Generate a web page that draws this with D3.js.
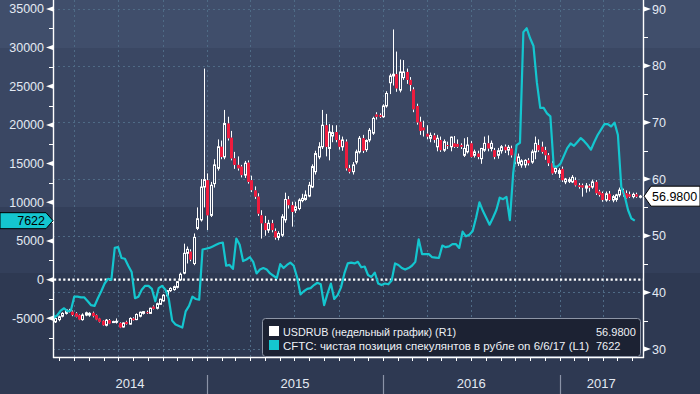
<!DOCTYPE html>
<html>
<head>
<meta charset="utf-8">
<script src="https://cdn.jsdelivr.net/npm/d3@7"></script>
<style>
  html, body { margin: 0; padding: 0; background: #2e3952; }
  svg { display: block; font-family: "Liberation Sans", Arial, sans-serif; }
</style>
</head>
<body>
<svg id="chart" width="700" height="394"></svg>
<script>
/* USDRUB weekly candles (R1) + CFTC net speculative RUB position (L1) */

// weekly USDRUB bars, Fridays from this date: [open, high, low, close]
const USDRUB_FIRST_WEEK = "2014-02-21";
const USDRUB_OHLC = [
  [34.8,35.6,34.6,35.4],[35.2,35.9,34.9,35.7],[35.8,36.5,35.6,36.3],[36.3,37.0,36.1,36.9],
  [36.8,37.1,36.4,36.5],[36.6,36.8,35.8,36.0],[36.3,36.5,35.6,35.7],[36.0,36.1,35.1,35.2],
  [35.2,36.3,35.0,36.0],[36.0,36.6,35.8,36.4],[36.0,36.5,35.7,36.3],[36.4,36.6,35.6,35.8],
  [36.0,36.1,35.1,35.2],[35.4,35.5,34.7,34.8],[35.0,35.1,34.1,34.2],[34.2,35.3,34.0,35.1],
  [35.1,35.3,34.4,34.5],[34.8,35.0,34.6,34.85],[34.8,35.4,34.5,34.9],[34.6,34.7,33.7,33.8],
  [33.9,34.7,33.8,34.6],[34.8,35.0,34.3,34.4],[34.4,35.6,34.3,35.4],[35.4,35.6,35.0,35.1],
  [35.2,36.3,35.1,36.1],[35.8,36.6,35.6,36.5],[36.3,36.7,36.1,36.6],[36.5,36.8,36.2,36.4],
  [36.3,37.3,36.2,37.2],[37.5,37.7,37.0,37.1],[37.2,38.2,37.0,38.0],[37.9,38.9,37.8,38.8],
  [38.5,39.7,38.4,39.5],[39.4,40.4,39.2,40.3],[40.3,40.9,40.1,40.7],[40.5,41.2,40.3,41.0],
  [40.9,42.0,40.7,41.9],[42.2,43.5,42.0,43.2],[43.4,48.6,43.2,46.9],[46.9,48.1,45.1,47.6],
  [47.2,47.6,45.5,45.8],[45.1,50.4,44.8,49.7],[51.3,55.0,51.0,53.0],[52.8,60.0,52.5,58.6],
  [58.6,79.5,55.0,59.9],[59.8,61.0,51.0,53.6],[53.6,59.5,53.3,58.9],[59.2,63.5,58.5,62.5],
  [61.9,67.0,61.5,65.7],[65.7,66.8,63.5,63.9],[63.9,72.2,63.5,69.8],[69.8,71.0,66.8,67.2],
  [67.3,68.5,63.3,63.65],[63.65,64.8,61.8,62.5],[62.5,64.0,61.5,61.9],[62.2,62.5,60.3,60.7],
  [60.7,63.2,60.2,62.8],[62.9,63.3,59.2,59.5],[59.8,60.6,57.7,58.05],[58.0,58.7,56.5,56.9],
  [56.9,57.5,53.5,53.9],[53.6,54.5,49.5,52.2],[52.2,53.5,50.0,51.0],[51.0,52.8,50.5,52.2],
  [52.2,52.8,50.6,51.0],[50.8,51.3,49.3,49.7],[49.7,50.8,49.2,50.4],[50.1,53.8,49.8,53.35],
  [52.8,57.6,52.3,56.4],[56.4,57.0,54.8,55.4],[55.4,56.0,51.6,54.2],[54.5,56.0,54.0,55.1],
  [54.8,56.6,54.5,56.3],[56.2,57.4,55.9,56.6],[56.4,58.0,56.2,57.2],[57.0,59.5,56.8,58.9],
  [58.6,62.6,58.4,62.2],[61.3,65.0,60.8,64.5],[63.9,66.5,63.5,65.7],[65.7,72.2,65.3,69.5],
  [69.5,71.5,64.0,65.7],[65.4,69.7,63.3,68.3],[67.6,69.5,66.5,68.2],[68.3,69.5,66.5,66.9],
  [66.9,67.8,65.2,65.7],[65.7,67.5,65.0,66.9],[66.6,67.0,61.5,61.9],[61.9,62.5,61.0,61.3],
  [61.3,63.0,60.8,62.5],[63.0,65.2,62.6,64.8],[64.8,67.6,64.5,67.2],[67.2,67.8,64.6,65.0],
  [65.2,67.0,64.8,66.8],[66.9,69.0,66.5,68.6],[68.1,71.0,67.8,70.7],[71.4,71.8,70.5,71.0],
  [71.3,71.6,70.8,71.0],[71.0,73.2,70.8,72.9],[72.9,75.5,72.6,75.1],[77.0,78.6,75.0,78.2],
  [78.2,86.4,76.5,78.5],[78.5,82.5,75.4,76.0],[75.7,81.1,75.3,78.9],[77.9,81.0,77.5,78.9],
  [78.9,79.5,76.8,77.5],[77.5,78.0,75.5,76.6],[75.8,76.2,71.8,72.3],[72.9,73.3,69.6,70.0],
  [70.1,71.0,67.8,68.5],[69.1,70.3,67.5,68.6],[68.0,69.5,67.0,67.5],[67.2,68.2,66.5,67.7],
  [67.7,68.1,66.4,66.9],[65.7,67.8,64.9,67.2],[66.9,67.5,64.8,65.1],[65.1,67.0,64.8,66.6],
  [66.0,66.6,65.3,65.9],[65.7,67.5,64.9,67.4],[66.3,67.6,65.5,65.7],[66.2,67.0,65.5,65.7],
  [66.0,66.3,65.3,65.7],[64.2,67.2,63.9,65.4],[64.8,67.4,64.5,66.0],[66.3,66.7,63.8,63.9],
  [64.2,65.2,63.8,64.8],[64.5,65.0,63.5,63.9],[63.6,65.5,62.7,65.4],[65.1,67.5,64.8,66.3],
  [66.3,67.7,64.9,65.4],[65.4,66.8,64.9,66.3],[65.1,65.5,63.5,63.9],[64.2,65.5,63.6,65.0],
  [65.0,66.0,64.5,65.7],[65.7,66.1,64.6,65.1],[65.1,66.0,64.2,65.6],[65.4,65.9,63.8,64.2],
  [64.5,64.8,62.6,63.1],[62.8,64.5,62.3,63.9],[62.5,63.5,62.0,63.2],[62.5,63.5,62.0,63.3],
  [63.3,63.7,62.4,62.8],[63.0,65.2,62.7,64.8],[64.8,67.5,63.5,66.3],[66.0,67.0,64.8,65.1],
  [65.7,66.6,64.5,64.8],[65.1,65.7,63.4,64.2],[64.2,64.6,62.3,62.8],[62.8,63.2,60.8,61.0],
  [61.3,62.3,60.9,61.9],[61.0,61.9,60.2,61.5],[61.8,62.2,59.5,59.8],[59.5,60.2,59.1,60.0],
  [59.6,60.3,59.3,59.9],[59.5,60.7,59.3,60.3],[59.8,60.3,58.7,58.9],[58.9,59.3,58.3,58.6],
  [58.9,59.2,56.9,58.5],[58.4,59.3,57.6,58.8],[58.8,59.1,57.8,58.5],[58.6,59.9,58.3,59.5],
  [59.5,59.8,57.2,57.5],[57.8,58.1,56.9,57.2],[57.5,57.8,56.0,56.3],[56.3,57.8,56.0,57.4],
  [57.4,57.9,56.1,56.3],[56.3,57.2,55.9,56.9],[56.4,57.4,56.0,57.2],[57.2,58.5,56.8,58.05],
  [58.0,58.3,56.9,57.3],[57.5,58.0,56.5,56.6],[57.3,57.8,56.7,56.9],[56.9,57.6,56.6,57.3],
  [57.3,57.6,56.7,56.9],[56.8,57.2,56.6,56.98]
];

// CFTC net speculative position in RUB futures, contracts, Tuesdays from this date
const CFTC_FIRST_WEEK = "2014-02-11";
const CFTC_NET = [
  -1600,-4900,-4600,-4000,-3700,-4100,-4000,-2200,-2200,-2300,-2300,-2800,-3300,-3400,-2400,-1500,
  -500,100,0,4100,4200,2800,2700,1800,1000,-2400,-2200,-1300,-800,-800,-1200,-2800,
  -1100,-800,-1300,-2500,-5300,-5800,-6000,-6200,-4100,-3400,-2200,-2500,-2600,3900,4000,4100,
  4300,4500,4700,4800,1800,1900,1400,5300,4500,2400,2600,2900,2300,800,1300,1500,
  1300,800,500,200,2000,1500,1900,2200,1800,300,-1900,-1500,-1200,-1100,-700,-400,
  -600,-3300,-1800,-500,-2500,-2000,-1000,800,2100,2200,2100,2300,1600,1700,600,350,
  900,-500,-700,-500,-600,-100,2100,1900,1500,1300,1500,1800,2300,5200,3300,3300,
  3300,2900,2850,2800,4400,4200,4300,4600,4600,4100,6200,5600,5800,6300,8000,10000,
  8900,8000,7100,8000,9000,10600,10400,10700,7700,13800,17400,17700,32000,32500,31200,30200,
  25500,22200,22200,21500,21100,14600,14600,15000,16000,17000,17600,17300,17800,18300,17900,17400,
  16800,17800,18700,19400,20100,20100,19800,20300,18700,12000,10800,9000,7900,7622
];

const LEFT_TICKS = [-5000, 0, 5000, 10000, 15000, 20000, 25000, 30000, 35000];
const RIGHT_TICKS = [30, 40, 50, 60, 70, 80, 90];
const YEARS = [2014, 2015, 2016, 2017];

const LAST_USDRUB = "56.9800";
const LAST_CFTC = "7622";
const LEGEND_ROWS = [
  { label: "USDRUB (недельный график) (R1)", value: LAST_USDRUB, color: "#ffffff" },
  { label: "CFTC: чистая позиция спекулянтов в рубле on 6/6/17 (L1)", value: LAST_CFTC, color: "#14c6cf" }
];

const W = 700, H = 394;
const M = { left: 53, right: 643, top: 0, bottom: 357 };
const CYAN = "#14c6cf", RED = "#ee1c3e", TXT = "#e4eaf3";

const parse = d3.utcParse("%Y-%m-%d");
const usdStart = parse(USDRUB_FIRST_WEEK), cftcStart = parse(CFTC_FIRST_WEEK);
const candles = USDRUB_OHLC.map(([o, h, l, c], i) => ({ date: d3.utcDay.offset(usdStart, 7 * i), o, h, l, c }));
const cftc = CFTC_NET.map((v, i) => ({ date: d3.utcDay.offset(cftcStart, 7 * i), v }));

const x = d3.scaleUtc().domain([parse("2014-02-16"), parse("2017-06-23")]).range([M.left, M.right]);
const yL = d3.scaleLinear().domain([-10000, 36150]).range([M.bottom, M.top]);
const yR = d3.scaleLinear().domain([28.6, 91.6]).range([M.bottom, M.top]);

const svg = d3.select("#chart");

// background bands
svg.append("g").selectAll("rect")
  .data([[0, 48, "#404e6b"], [48, 207, "#3a4763"], [207, 273, "#333f5a"], [273, H, "#2e3952"]])
  .join("rect")
  .attr("x", 0).attr("width", W)
  .attr("y", d => d[0]).attr("height", d => d[1] - d[0])
  .attr("fill", d => d[2]);

svg.append("clipPath").attr("id", "plotClip")
  .append("rect").attr("x", M.left).attr("y", M.top)
  .attr("width", M.right - M.left).attr("height", M.bottom - M.top);

const plot = svg.append("g").attr("clip-path", "url(#plotClip)");

// dashed grid
const grid = plot.append("g").attr("stroke", "#4f6b86").attr("stroke-width", 1).attr("stroke-dasharray", "2,3");
grid.selectAll("line.h").data(RIGHT_TICKS).join("line").attr("class", "h")
  .attr("x1", M.left).attr("x2", M.right)
  .attr("y1", d => Math.round(yR(d)) + 0.5).attr("y2", d => Math.round(yR(d)) + 0.5);
grid.selectAll("line.v").data(x.ticks(d3.utcMonth.every(3))).join("line").attr("class", "v")
  .attr("y1", M.top).attr("y2", M.bottom)
  .attr("x1", d => Math.round(x(d)) + 0.5).attr("x2", d => Math.round(x(d)) + 0.5);

// candles
const cg = plot.append("g").selectAll("g").data(candles).join("g")
  .attr("transform", d => `translate(${Math.round(x(d.date)) + 0.5},0)`);
cg.append("line").attr("stroke", "#fff").attr("stroke-width", 1)
  .attr("y1", d => yR(d.h)).attr("y2", d => yR(Math.max(d.o, d.c)));
cg.append("line").attr("stroke", "#fff").attr("stroke-width", 1)
  .attr("y1", d => yR(Math.min(d.o, d.c))).attr("y2", d => yR(d.l));
cg.append("rect")
  .attr("x", d => d.c >= d.o ? -1 : -1.5)
  .attr("width", d => d.c >= d.o ? 2 : 3)
  .attr("y", d => yR(Math.max(d.o, d.c)))
  .attr("height", d => Math.max(1, yR(Math.min(d.o, d.c)) - yR(Math.max(d.o, d.c))))
  .attr("fill", d => d.c >= d.o ? "none" : RED)
  .attr("stroke", d => d.c >= d.o ? "#fff" : "none")
  .attr("stroke-width", 1);

// zero line of the left axis
plot.append("line")
  .attr("x1", M.left + 1).attr("x2", M.right)
  .attr("y1", yL(0)).attr("y2", yL(0))
  .attr("stroke", "#fff").attr("stroke-width", 2.2).attr("stroke-dasharray", "2.2,2.4");

// CFTC line
plot.append("path").datum(cftc)
  .attr("fill", "none").attr("stroke", CYAN).attr("stroke-width", 2.2)
  .attr("stroke-linejoin", "round")
  .attr("d", d3.line().x(d => x(d.date)).y(d => yL(d.v)));

// axes
const ax = svg.append("g").attr("stroke", "#fff");
ax.append("line").attr("x1", M.left + 0.5).attr("x2", M.left + 0.5).attr("y1", 0).attr("y2", M.bottom + 1).attr("stroke-width", 1.4);
ax.append("line").attr("x1", M.right + 0.5).attr("x2", M.right + 0.5).attr("y1", 0).attr("y2", M.bottom + 1).attr("stroke-width", 1.4);
ax.append("line").attr("x1", M.left).attr("x2", M.right + 1).attr("y1", M.bottom + 0.5).attr("y2", M.bottom + 0.5).attr("stroke-width", 1.4);

// left ticks: major markers + minor
const leftMinor = LEFT_TICKS.map(t => t - 2500).concat([LEFT_TICKS[LEFT_TICKS.length - 1] + 2500]);
ax.selectAll("line.lmin").data(leftMinor.filter(t => yL(t) >= 0 && yL(t) <= M.bottom)).join("line")
  .attr("class", "lmin").attr("x1", M.left - 4).attr("x2", M.left)
  .attr("y1", d => Math.round(yL(d)) + 0.5).attr("y2", d => Math.round(yL(d)) + 0.5);
svg.append("g").selectAll("path").data(LEFT_TICKS).join("path")
  .attr("fill", "#fff")
  .attr("d", d => { const y = yL(d); return `M${M.left},${y - 2.5}L${M.left},${y + 2.5}L${M.left - 7},${y}Z`; });
svg.append("g").selectAll("text").data(LEFT_TICKS).join("text")
  .attr("x", 44).attr("y", d => yL(d)).attr("dy", "0.36em")
  .attr("text-anchor", "end").attr("fill", TXT).attr("font-size", 12.5)
  .text(d => String(d));

// right ticks
const rightMinor = RIGHT_TICKS.map(t => t + 5);
ax.selectAll("line.rmin").data(rightMinor.filter(t => yR(t) >= 0)).join("line")
  .attr("class", "rmin").attr("x1", M.right).attr("x2", M.right + 5)
  .attr("y1", d => Math.round(yR(d)) + 0.5).attr("y2", d => Math.round(yR(d)) + 0.5);
svg.append("g").selectAll("path").data(RIGHT_TICKS).join("path")
  .attr("fill", "#fff")
  .attr("d", d => { const y = yR(d); return `M${M.right + 1},${y - 2.5}L${M.right + 1},${y + 2.5}L${M.right + 8},${y}Z`; });
svg.append("g").selectAll("text").data(RIGHT_TICKS).join("text")
  .attr("x", 652).attr("y", d => yR(d)).attr("dy", "0.36em")
  .attr("fill", TXT).attr("font-size", 12.5)
  .text(d => String(d));

// bottom: monthly ticks, year separators, year labels
ax.selectAll("line.mt").data(x.ticks(d3.utcMonth.every(1))).join("line")
  .attr("class", "mt").attr("y1", M.bottom).attr("y2", M.bottom + 4)
  .attr("x1", d => Math.round(x(d)) + 0.5).attr("x2", d => Math.round(x(d)) + 0.5);
const yearStarts = YEARS.slice(1).map(yr => new Date(Date.UTC(yr, 0, 1)));
svg.append("g").selectAll("line").data(yearStarts).join("line")
  .attr("x1", d => Math.round(x(d)) + 0.5).attr("x2", d => Math.round(x(d)) + 0.5)
  .attr("y1", 375).attr("y2", H)
  .attr("stroke", "#8a93a7").attr("stroke-width", 1.2);
svg.append("g").selectAll("text").data(YEARS).join("text")
  .attr("x", yr => {
    const a = Math.max(M.left, x(new Date(Date.UTC(yr, 0, 1))));
    const b = Math.min(M.right, x(new Date(Date.UTC(yr + 1, 0, 1))));
    return (a + b) / 2;
  })
  .attr("y", 388).attr("text-anchor", "middle")
  .attr("fill", TXT).attr("font-size", 13)
  .text(d => String(d));

// legend
const lg = svg.append("g");
lg.append("rect").attr("x", 262.5).attr("y", 318.5).attr("width", 378).attr("height", 38)
  .attr("rx", 3).attr("fill", "#1c2233").attr("stroke", "#8d95a6").attr("stroke-width", 1);
const rows = lg.selectAll("g").data(LEGEND_ROWS).join("g")
  .attr("transform", (d, i) => `translate(0,${326 + i * 14})`);
rows.append("rect").attr("x", 269).attr("y", 0).attr("width", 10).attr("height", 10).attr("fill", d => d.color);
rows.append("text").attr("x", 283).attr("y", 9.5).attr("fill", "#eef1f6").attr("font-size", 11)
  .attr("textLength", (d, i) => i === 0 ? 173 : 306).attr("lengthAdjust", "spacingAndGlyphs")
  .text(d => d.label);
rows.append("text").attr("x", 596).attr("y", 9.5).attr("fill", "#eef1f6").attr("font-size", 11)
  .text(d => d.value);

// last value tags
const yl = yL(CFTC_NET[CFTC_NET.length - 1]);
svg.append("path")
  .attr("d", `M0,${yl - 8}L46,${yl - 8}L53,${yl}L46,${yl + 8}L0,${yl + 8}Z`)
  .attr("fill", CYAN).attr("stroke", "#000").attr("stroke-width", 1);
svg.append("text").attr("x", 45).attr("y", yl).attr("dy", "0.36em")
  .attr("text-anchor", "end").attr("fill", "#000").attr("font-size", 12.5).text(LAST_CFTC);

const yr = yR(USDRUB_OHLC[USDRUB_OHLC.length - 1][3]);
svg.append("path")
  .attr("d", `M644,${yr}L651,${yr - 10}L700,${yr - 10}L700,${yr + 10}L651,${yr + 10}Z`)
  .attr("fill", "#fff").attr("stroke", "#000").attr("stroke-width", 1);
svg.append("text").attr("x", 652).attr("y", yr).attr("dy", "0.36em")
  .attr("fill", "#000").attr("font-size", 12.5).text(LAST_USDRUB);
</script>
</body>
</html>
